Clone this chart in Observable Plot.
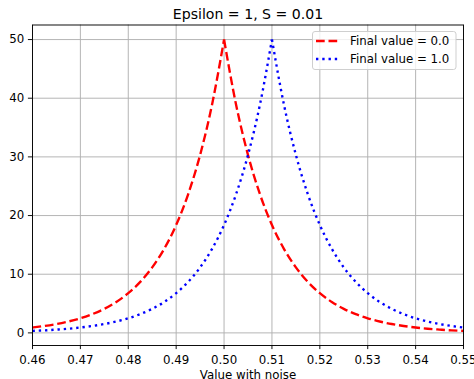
<!DOCTYPE html>
<html><head><meta charset="utf-8">
<script src="https://cdn.jsdelivr.net/npm/d3@7"></script>
<script src="https://cdn.jsdelivr.net/npm/@observablehq/plot@0.6"></script>
<style>
body{margin:0;background:#fff;font-family:"DejaVu Sans",sans-serif;}
#wrap{position:relative;width:474px;height:379px;overflow:hidden;}
#legend{position:absolute;left:0;top:0;}
</style></head><body>
<div id="wrap"></div>
<script>
const title = "Epsilon = 1, S = 0.01";
const xLabel = "Value with noise";
const seriesNames = ["Final value = 0.0", "Final value = 1.0"];
const xValues = [0.46,0.4625,0.465,0.4675,0.47,0.4725,0.475,0.4775,0.48,0.4825,0.485,0.4875,0.49,0.4925,0.495,0.4975,0.5,0.5025,0.505,0.5075,0.51,0.5125,0.515,0.5175,0.52,0.5225,0.525,0.5275,0.53,0.5325,0.535,0.5375,0.54,0.5425,0.545,0.5475,0.55];
const redValues = [0.92,1.18,1.51,1.94,2.49,3.20,4.10,5.27,6.77,8.69,11.16,14.33,18.39,23.62,30.33,38.94,50,38.94,30.33,23.62,18.39,14.33,11.16,8.69,6.77,5.27,4.10,3.20,2.49,1.94,1.51,1.18,0.92,0.71,0.56,0.43,0.34];
const blueValues = [0.34,0.43,0.56,0.71,0.92,1.18,1.51,1.94,2.49,3.20,4.10,5.27,6.77,8.69,11.16,14.33,18.39,23.62,30.33,38.94,50,38.94,30.33,23.62,18.39,14.33,11.16,8.69,6.77,5.27,4.10,3.20,2.49,1.94,1.51,1.18,0.92];
const xTicks = [0.46,0.47,0.48,0.49,0.50,0.51,0.52,0.53,0.54,0.55];
const yTicks = [0,10,20,30,40,50];

function branches(vals, name){
  const imax = vals.indexOf(d3.max(vals));
  const rows = [];
  vals.forEach((v,i)=>{
    if(i<=imax) rows.push({x:xValues[i], y:v, series:name, part:name+"L"});
    if(i>=imax) rows.push({x:xValues[i], y:v, series:name, part:name+"R"});
  });
  return rows;
}
const redRows = branches(redValues, seriesNames[0]);
const blueRows = branches(blueValues, seriesNames[1]);

const fs = 11.8;
const lw = 2.36;
const redDash = "8.7,3.8";
const blueDash = "2.36,3.9";
const chart = Plot.plot({
  width: 474, height: 379,
  marginLeft: 32, marginRight: 11, marginTop: 24.5, marginBottom: 34,
  style: {fontFamily: "DejaVu Sans, sans-serif", fontSize: fs+"px", color:"#000", background:"#fff"},
  x: {domain:[0.46,0.55], ticks: xTicks, tickFormat: d3.format(".2f"), label: null},
  y: {domain:[-2.15,52.48], ticks: yTicks, label: null},
  marks: [
    Plot.gridX(xTicks, {stroke:"#b0b0b0", strokeOpacity:1, strokeWidth:0.94}),
    Plot.gridY(yTicks, {stroke:"#b0b0b0", strokeOpacity:1, strokeWidth:0.94}),
    Plot.axisX(xTicks, {tickSize:4.1, tickPadding:6.2, fontSize:fs, tickFormat:d3.format(".2f"), strokeWidth:0.94, label:null}),
    Plot.axisY(yTicks, {tickSize:4.1, tickPadding:4.1, fontSize:fs, strokeWidth:0.94, label:null}),
    Plot.line(redRows, {x:"x", y:"y", z:"part", stroke:"#ff0000", strokeWidth:lw, strokeDasharray:redDash, curve:"monotone-x", strokeLinecap:"butt"}),
    Plot.line(blueRows, {x:"x", y:"y", z:"part", stroke:"#0000ff", strokeWidth:lw, strokeDasharray:blueDash, curve:"monotone-x", strokeLinecap:"butt"}),
    Plot.frame({stroke:"#000", strokeWidth:0.94}),
    Plot.text([title], {frameAnchor:"top", lineAnchor:"bottom", dy:-6.3, fontSize:14.1, fill:"#000"}),
    Plot.text([xLabel], {frameAnchor:"bottom", lineAnchor:"top", dy:25, fontSize:fs, fill:"#000"})
  ]
});
const wrap = document.getElementById("wrap");
wrap.appendChild(chart);

// legend overlay
const lg = d3.select(wrap).append("svg").attr("id","legend").attr("width",474).attr("height",379)
  .style("font-family","DejaVu Sans, sans-serif").style("font-size",fs+"px");
lg.append("rect").attr("x",312.5).attr("y",31.5).attr("width",143.5).attr("height",38).attr("rx",2.5)
  .attr("fill","#fff").attr("fill-opacity",0.8).attr("stroke","#cccccc").attr("stroke-width",0.94);
const styles = [{c:"#ff0000", d:redDash},{c:"#0000ff", d:blueDash}];
seriesNames.forEach((n,i)=>{
  const y = 41 + i*18;
  lg.append("line").attr("x1",316).attr("x2",339).attr("y1",y).attr("y2",y)
    .attr("stroke",styles[i].c).attr("stroke-width",lw).attr("stroke-dasharray",styles[i].d);
  lg.append("text").attr("x",350).attr("y",y).attr("dy","0.35em").text(n);
});
</script>
</body></html>
